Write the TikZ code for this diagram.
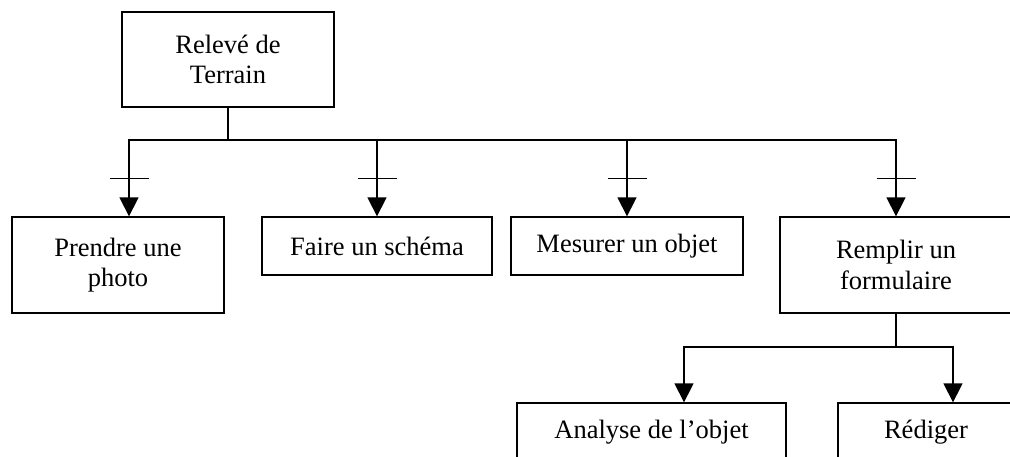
\documentclass[tikz,border=0pt]{standalone}
\usepackage{fontspec}
\setmainfont{Liberation Serif}
\usetikzlibrary{arrows.meta,positioning}

\begin{document}
\begin{tikzpicture}[
    x=1pt,y=-1pt,
    box/.style={draw,line width=1.3pt,align=center,inner sep=0pt,font=\fontsize{26.5}{30.5}\selectfont},
    link/.style={line width=1.3pt},
    arrow/.style={line width=1.3pt,-{Triangle[length=19pt,width=19pt]}},
    >=Stealth
]
\useasboundingbox (0,0) rectangle (1010,456);

\node[box,minimum width=212pt,minimum height=95pt] (releve) at (228,59.5) {Relevé de\\Terrain};
\node[box,minimum width=212pt,minimum height=96pt] (photo) at (118,265) {Prendre une\\photo};
\node[box,minimum width=230pt,minimum height=58pt] (schema) at (377,246) {Faire un schéma};
\node[box,minimum width=232pt,minimum height=58pt] (mesure) at (627,246) {Mesurer un objet};
\node[box,minimum width=232pt,minimum height=96pt] (formulaire) at (896,265) {Remplir un\\formulaire};
\node[box,minimum width=269pt,minimum height=58pt] (analyse) at (651.5,432) {Analyse de l’objet};
\node[box,minimum width=176pt,minimum height=58pt] (rediger) at (926,432) {Rédiger};

% first level
\coordinate (bus) at (228,140);
\draw[link] (releve) -- (bus);
\draw[arrow] (bus) -| coordinate[pos=0.75] (t1) ([xshift=11pt]photo.north);
\draw[arrow] (bus) -| coordinate[pos=0.75] (t2) (schema.north);
\draw[arrow] (bus) -| coordinate[pos=0.75] (t3) (mesure.north);
\draw[arrow] (bus) -| coordinate[pos=0.75] (t4) (formulaire.north);

\draw[link] ([xshift=-19.5pt]t1) -- ([xshift=19.5pt]t1);
\draw[link] ([xshift=-19.5pt]t2) -- ([xshift=19.5pt]t2);
\draw[link] ([xshift=-19.5pt]t3) -- ([xshift=19.5pt]t3);
\draw[link] ([xshift=-19.5pt]t4) -- ([xshift=19.5pt]t4);

% second level
\coordinate (bus2) at (896,347);
\draw[link] (formulaire) -- (bus2);
\draw[arrow] (bus2) -| ([xshift=32.5pt]analyse.north);
\draw[arrow] (bus2) -| ([xshift=27pt]rediger.north);
\end{tikzpicture}
\end{document}
